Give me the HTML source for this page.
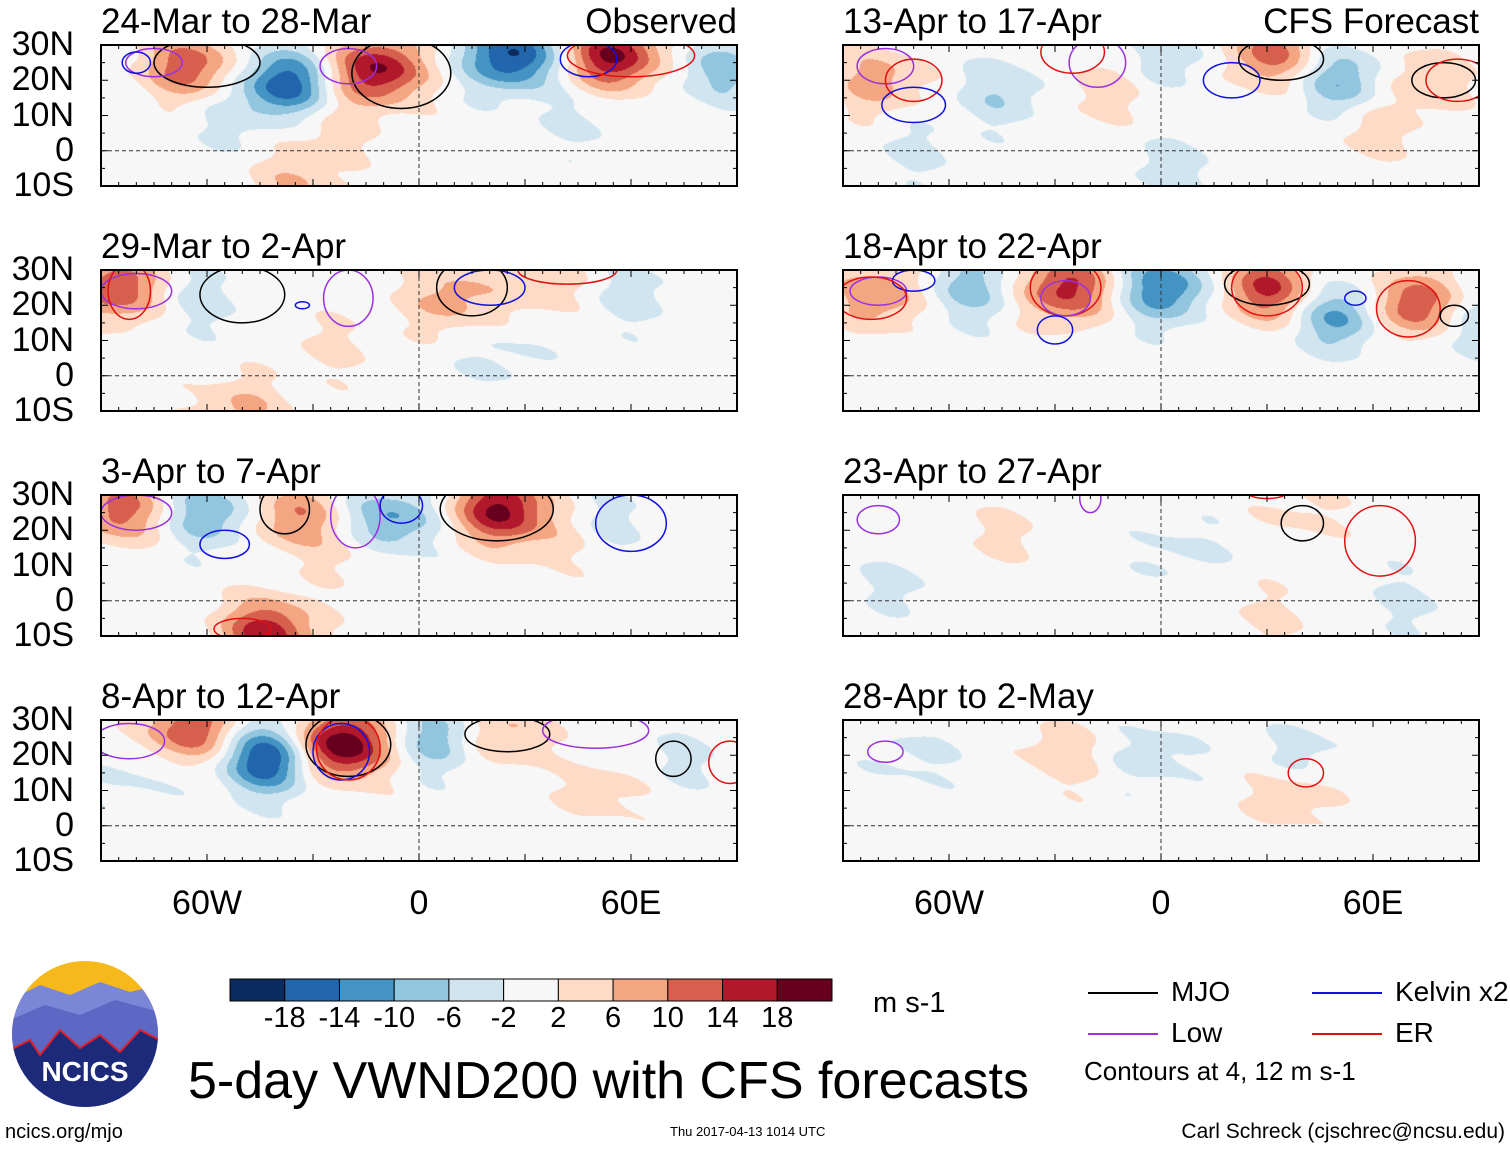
<!DOCTYPE html>
<html><head><meta charset="utf-8">
<style>
body{margin:0;background:#fff;width:1510px;height:1149px;position:relative;overflow:hidden;font-family:"Liberation Sans",sans-serif;}
.t{position:absolute;white-space:nowrap;color:#000;z-index:5;line-height:1.15;}
canvas{position:absolute;}
</style></head><body>
<div id="root"></div>
<svg id="svg" width="1510" height="1149" style="position:absolute;left:0;top:0"></svg>
<script>
const titles=["24-Mar to 28-Mar","29-Mar to 2-Apr","3-Apr to 7-Apr","8-Apr to 12-Apr","13-Apr to 17-Apr","18-Apr to 22-Apr","23-Apr to 27-Apr","28-Apr to 2-May"];
const latTicks=["30N","20N","10N","0","10S"];
const latVals=[30,20,10,0,-10];
const lonTicks=["60W","0","60E"];
const lonVals=[-60,0,60];
const levels=[-18,-14,-10,-6,-2,2,6,10,14,18];
const levelLabels=["-18","-14","-10","-6","-2","2","6","10","14","18"];
const colors=["#0b2b5e","#2166ac","#4393c3","#92c5de","#d1e5f0","#f7f7f7","#fddbc7","#f4a582","#d6604d","#b2182b","#67001f"];
const blobs0=[[-65,24,13],[-38,19,-17],[-12,23,19],[26,27,-19],[55,27,19],[86,23,-8],[-25,6,4],[-56,9,-3],[46,9,-3],[-35,-10,6]];
const blobs1=[[-86,25,14],[9,22,8],[-51,-10,7],[-62,22,-4],[60,23,-4],[23,5,-3],[-25,8,3],[35,26,5]];
const blobs2=[[-85,26,12],[-59,25,-10],[-36,24,10],[-8,23,-11],[23,26,19],[-43,-9,17],[40,18,4],[52,22,-4],[-20,14,3]];
const blobs3=[[-65,27,14],[-43,19,-19],[-22,23,23],[6,25,-9],[23,26,8],[52,10,4],[74,19,-3],[-80,15,-3]];
const blobs4=[[-80,20,8],[-45,17,-6],[-17,17,4],[3,28,-5],[31,28,12],[51,20,-10],[74,20,6],[60,6,4],[3,-5,-4],[-70,0,-3]];
const blobs5=[[-80,23,10],[-54,25,-8],[-27,25,16],[1,25,-14],[30,25,15],[51,17,-12],[71,20,15],[88,14,-6]];
const blobs6=[[-45,19,3],[6,14,-3],[-75,5,-3],[40,25,3],[30,-5,3],[70,0,-3]];
const blobs7=[[-28,20,5],[-3,20,-4],[40,20,-4],[37,9,5],[-70,20,-3]];
const allBlobs=[blobs0,blobs1,blobs2,blobs3,blobs4,blobs5,blobs6,blobs7];
const cont0=[[-60,25,15,7,"mjo"],[-5,22,14,10,"mjo"],[-75,25,8,4,"low"],[-20,24,8,5,"low"],[48,26,8,5,"kel"],[60,27,18,6,"er"],[-80,25,4,3,"kel"]];
const cont1=[[-50,23,12,8,"mjo"],[15,25,10,8,"mjo"],[-20,22,7,8,"low"],[-80,24,10,5,"low"],[20,25,10,5,"kel"],[42,30,14,4,"er"],[-82,24,6,8,"er"],[-33,20,2,1,"kel"]];
const cont2=[[-38,26,7,7,"mjo"],[22,26,16,9,"mjo"],[-80,25,10,5,"low"],[-18,24,7,9,"low"],[-5,27,6,5,"kel"],[-55,16,7,4,"kel"],[60,22,10,8,"kel"],[-50,-8,8,3,"er"]];
const cont3=[[-20,23,12,9,"mjo"],[25,26,12,5,"mjo"],[72,19,5,5,"mjo"],[-82,24,10,5,"low"],[-22,21,8,8,"kel"],[-20,22,9,9,"er"],[50,27,15,5,"low"],[88,18,6,6,"er"]];
const cont4=[[-78,24,8,5,"low"],[-70,20,8,6,"er"],[-70,13,9,5,"kel"],[-18,25,8,7,"low"],[-25,28,9,6,"er"],[34,26,12,6,"mjo"],[20,20,8,5,"kel"],[80,20,9,5,"mjo"],[84,20,9,6,"er"]];
const cont5=[[-80,24,8,4,"low"],[-70,27,6,3,"kel"],[-82,22,10,6,"er"],[-27,25,10,8,"er"],[-27,22,7,5,"low"],[-30,13,5,4,"kel"],[30,26,12,6,"mjo"],[30,25,10,8,"er"],[55,22,3,2,"kel"],[70,19,9,8,"er"],[83,17,4,3,"mjo"]];
const cont6=[[-80,23,6,4,"low"],[-20,29,3,4,"low"],[40,22,6,5,"mjo"],[62,17,10,10,"er"],[30,31,6,2,"er"]];
const cont7=[[-78,21,5,3,"low"],[41,15,5,4,"er"]];
const allCont=[cont0,cont1,cont2,cont3,cont4,cont5,cont6,cont7];
const contColor={mjo:"#000",low:"#9b30e0",kel:"#1010e0",er:"#e01010"};

const NS="http://www.w3.org/2000/svg";
const svg=document.getElementById('svg');
const root=document.getElementById('root');
const PW=636,PH=141;
const colX=[101,843],rowY=[45,270,495,720];
function xs(lon){return (lon+90)/180*PW;}
function ys(lat){return (30-lat)/40*PH;}
function mk(tag,attrs,parent){const e=document.createElementNS(NS,tag);for(const k in attrs)e.setAttribute(k,attrs[k]);(parent||svg).appendChild(e);return e;}
function txt(s,x,y,size,name,anchor){const d=document.createElement('div');d.className='t';d.textContent=s;d.style.left=x+'px';d.style.top=y+'px';d.style.fontSize=size+'px';if(anchor==='c')d.style.transform='translateX(-50%)';if(anchor==='r')d.style.transform='translateX(-100%)';


document.body.appendChild(d);return d;}
function colorFor(v){let i=0;while(i<levels.length&&v>=levels[i])i++;return colors[i];}
function hex(c){return [parseInt(c.substr(1,2),16),parseInt(c.substr(3,2),16),parseInt(c.substr(5,2),16)];}
for(let p=0;p<8;p++){
  const col=p<4?0:1,row=p%4;const X=colX[col],Y=rowY[row];
  const cv=document.createElement('canvas');cv.width=PW;cv.height=PH;cv.style.left=X+'px';cv.style.top=Y+'px';
  
  
  document.body.insertBefore(cv,svg);
  const ctx=cv.getContext('2d');const img=ctx.createImageData(PW,PH);
  const b=allBlobs[p];
  for(let j=0;j<PH;j++){const lat=30-j/PH*40;for(let i=0;i<PW;i++){const lon=-90+i/PW*180;let v=0;
    for(const q of b){const dx=(lon-q[0])/9,dy=(lat-q[1])/6.5;v+=q[2]*Math.exp(-(dx*dx+dy*dy)/2);}
    v+=1.5*Math.sin(lon*0.21+lat*0.35+p)*Math.cos(lat*0.3-lon*0.05);
    const c=hex(colorFor(v));const k=(j*PW+i)*4;img.data[k]=c[0];img.data[k+1]=c[1];img.data[k+2]=c[2];img.data[k+3]=255;}}
  ctx.putImageData(img,0,0);
  const g=mk('g',{transform:`translate(${X},${Y})`});
  
  
  const cl=mk('clipPath',{id:'cp'+p},g);mk('rect',{x:0,y:0,width:PW,height:PH},cl);
  const cg=mk('g',{'clip-path':`url(#cp${p})`},g);
  for(const c of allCont[p]){const e=mk('ellipse',{cx:xs(c[0]),cy:ys(c[1]),rx:c[2]*PW/180,ry:c[3]*PH/40,fill:'none',stroke:contColor[c[4]],'stroke-width':1.5},cg);
    
    }
  mk('line',{x1:0,x2:PW,y1:ys(0),y2:ys(0),stroke:'#333','stroke-dasharray':'4,3','stroke-width':1},g);
  mk('line',{x1:xs(0),x2:xs(0),y1:0,y2:PH,stroke:'#333','stroke-dasharray':'4,3','stroke-width':1},g);
  for(let l=-90;l<=90;l+=5){const x=xs(l),len=(l%30===0)?7:4;mk('line',{x1:x,x2:x,y1:0,y2:len,stroke:'#000'},g);mk('line',{x1:x,x2:x,y1:PH,y2:PH-len,stroke:'#000'},g);}
  for(let a=-10;a<=30;a+=5){const y=ys(a),len=(a%10===0)?7:4;mk('line',{x1:0,x2:len,y1:y,y2:y,stroke:'#000'},g);mk('line',{x1:PW,x2:PW-len,y1:y,y2:y,stroke:'#000'},g);}
  mk('rect',{x:0,y:0,width:PW,height:PH,fill:'none',stroke:'#000','stroke-width':2},g);
  txt(titles[p],X,Y-43,35,'panel-title-'+(p+1));
  if(col===0){latVals.forEach((v,i)=>txt(latTicks[i],74,Y+ys(v)-20,34,'lat-label','r'));}
}
txt("Observed",737,2,35,'observed-label','r');
txt("CFS Forecast",1479,2,35,'forecast-label','r');
for(let c=0;c<2;c++)lonVals.forEach((v,i)=>txt(lonTicks[i],colX[c]+xs(v),884,34,'lon-label','c'));
const cbX=230,cbW=602/11;
colors.forEach((c,i)=>{const r=mk('rect',{x:cbX+i*cbW,y:979,width:cbW,height:22,fill:c,stroke:'#000','stroke-width':1});

});
levelLabels.forEach((s,i)=>txt(s,cbX+(i+1)*cbW,1002,29,'colorbar-label','c'));
txt("m s-1",873,987,29,'units-label');
txt("5-day VWND200 with CFS forecasts",188,1052,52,'main-title');
const leg=[["MJO","#000",1088,993],["Kelvin x2","#1010e0",1312,993],["Low","#9b30e0",1088,1034],["ER","#e01010",1312,1034]];
leg.forEach(l=>{const ln=mk('line',{x1:l[2],x2:l[2]+70,y1:l[3],y2:l[3],stroke:l[1],'stroke-width':2});


txt(l[0],l[2]+83,l[3]-17,28,'legend-entry');});
txt("Contours at 4, 12 m s-1",1084,1057,26,'contour-note');
txt("ncics.org/mjo",5,1121,20,'url-label');
txt("Thu 2017-04-13 1014 UTC",670,1125,13,'timestamp');
txt("Carl Schreck (cjschrec@ncsu.edu)",1505,1120,21,'author-label','r');
const lg=mk('g',{});


const lc=mk('clipPath',{id:'lgc'},lg);mk('circle',{cx:85,cy:1034,r:73},lc);
const lgi=mk('g',{'clip-path':'url(#lgc)'},lg);
mk('rect',{x:10,y:960,width:150,height:150,fill:'#f6b81a'},lgi);
mk('path',{d:'M10 1000 L40 985 L70 995 L100 982 L130 992 L160 985 L160 1110 L10 1110Z',fill:'#7a86d6'},lgi);
mk('path',{d:'M10 1020 L45 1005 L80 1015 L115 1000 L160 1012 L160 1110 L10 1110Z',fill:'#5c68c4'},lgi);
mk('path',{d:'M10 1050 L30 1040 L40 1055 L60 1030 L80 1048 L100 1035 L120 1052 L140 1030 L160 1040 L160 1110 L10 1110Z',fill:'#1d2a7a',stroke:'#e0202a','stroke-width':2},lgi);
const lt=txt("NCICS",85,1056,28,'logo-text','c');
lt.style.color='#fff';lt.style.fontWeight='bold';
</script>
</body></html>
